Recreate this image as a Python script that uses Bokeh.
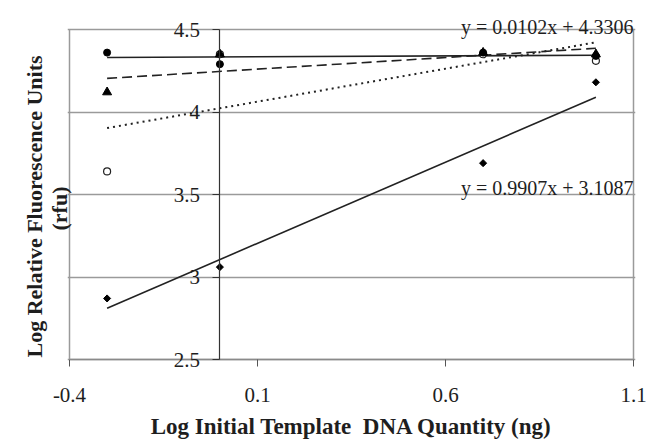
import numpy as np
from bokeh.plotting import figure
from bokeh.models import FixedTicker, Label, Title, Range1d, LinearAxis
from bokeh.embed import file_html
from bokeh.resources import INLINE

# Data (log initial template DNA quantity, log rfu)
x_vals = [-0.3, 0.0, 0.7, 1.0]
diamonds = [2.87, 3.06, 3.69, 4.18]
filled_circles = [4.36, 4.29, 4.36, 4.34]
triangles = [4.12, 4.35, 4.36, 4.35]
open_circles = [3.64, 4.35, 4.35, 4.31]

x_ticks = [-0.4, 0.1, 0.6, 1.1]
x_tick_labels = ["-0.4", "0.1", "0.6", "1.1"]
y_ticks = [2.5, 3.0, 3.5, 4.0, 4.5]
y_tick_labels = ["2.5", "3", "3.5", "4", "4.5"]
eq_top = "y = 0.0102x + 4.3306"
eq_bottom = "y = 0.9907x + 3.1087"
x_title = "Log Initial Template\u00a0 DNA Quantity (ng)"
y_title = ["(rfu)", "Log Relative Fluorescence Units"]

SERIF = "Liberation Serif"
TXT = "#1e1e1e"
GRID = "#9a9a9a"

# layout (pixels)
PX_X = 376.0          # pixels per x unit
PX_Y = 165.0          # pixels per y unit
PAD_X = 2             # px beyond box left/right
PAD_TOP = 19          # px of frame above the 4.5 line (room for text)
PAD_BOT = 13          # px of frame below the 2.5 line (room for tick labels)

x0, x1 = x_ticks[0], x_ticks[-1]
y0, y1 = y_ticks[0], y_ticks[-1]
fw = int(round((x1 - x0) * PX_X)) + 2 * PAD_X
fh = int(round((y1 - y0) * PX_Y)) + PAD_TOP + PAD_BOT

p = figure(output_backend="svg", toolbar_location=None,
           x_range=Range1d(x0 - PAD_X / PX_X, x1 + PAD_X / PX_X),
           y_range=Range1d(y0 - PAD_BOT / PX_Y, y1 + PAD_TOP / PX_Y),
           frame_width=fw, frame_height=fh,
           min_border_left=67, min_border_right=12, min_border_top=10, min_border_bottom=0)
p.background_fill_color = "white"
p.border_fill_color = "white"
p.outline_line_color = None

# horizontal grid lines (incl. top border at 4.5)
p.xgrid.visible = False
p.ygrid.ticker = FixedTicker(ticks=y_ticks)
p.ygrid.grid_line_color = GRID
p.ygrid.grid_line_width = 1.5

# main x axis: labels only
xa = p.xaxis[0]
xa.ticker = FixedTicker(ticks=x_ticks)
xa.major_label_overrides = {t: l for t, l in zip(x_ticks, x_tick_labels)}
xa.axis_line_color = None
xa.major_tick_line_color = None
xa.major_tick_in = 0
xa.major_tick_out = 0
xa.minor_tick_line_color = None
xa.major_label_text_font = SERIF
xa.major_label_text_font_size = "21px"
xa.major_label_text_color = TXT
xa.major_label_standoff = 15
xa.axis_label = x_title
xa.axis_label_text_font = SERIF
xa.axis_label_text_font_style = "bold"
xa.axis_label_text_font_size = "23px"
xa.axis_label_text_color = TXT
xa.axis_label_standoff = 9

# bottom box line with tick marks at y = 2.5
xb = LinearAxis(fixed_location=y0, bounds=(x0, x1), ticker=FixedTicker(ticks=x_ticks),
                axis_line_color="#8a8a8a", axis_line_width=1.5,
                major_tick_line_color="#555555", major_tick_in=0, major_tick_out=7,
                minor_tick_line_color=None, major_label_text_color=None)
p.add_layout(xb, "below")

# left / right box lines
for loc in (x0, x1):
    bx = LinearAxis(fixed_location=loc, bounds=(y0, y1), ticker=FixedTicker(ticks=[]),
                    axis_line_color=GRID, axis_line_width=1.5,
                    major_tick_line_color=None, minor_tick_line_color=None,
                    major_label_text_color=None)
    p.add_layout(bx, "left")

# y axis, crossing at x = 0
ya = p.yaxis[0]
ya.fixed_location = 0
ya.bounds = (y0, y1)
ya.ticker = FixedTicker(ticks=y_ticks)
ya.major_label_overrides = {t: l for t, l in zip(y_ticks, y_tick_labels)}
ya.axis_line_color = "#333333"
ya.axis_line_width = 1.2
ya.major_tick_line_color = "#333333"
ya.major_tick_in = 0
ya.major_tick_out = 7
ya.minor_tick_line_color = None
ya.major_label_text_font = SERIF
ya.major_label_text_font_size = "21px"
ya.major_label_text_color = TXT
ya.major_label_standoff = 13

# y axis title (two lines)
p.add_layout(Title(text=y_title[0], align="left", offset=142, text_font=SERIF,
                   text_font_style="bold", text_font_size="22px", text_color=TXT,
                   standoff=-8), "left")
p.add_layout(Title(text=y_title[1], align="left", offset=15, text_font=SERIF,
                   text_font_style="bold", text_font_size="22px", text_color=TXT,
                   standoff=4), "left")

# trend lines (least squares fits of each series)
xs = np.array(x_vals)
xline = np.array([min(x_vals), max(x_vals)])
for ys, dash, width in [(diamonds, "solid", 1.6), (filled_circles, "solid", 1.6),
                        (triangles, "10 5", 1.6), (open_circles, "2 4", 2)]:
    m, b = np.polyfit(xs, np.array(ys), 1)
    p.line(xline, m * xline + b, line_color="#222222", line_width=width, line_dash=dash)

# markers
p.scatter(x_vals, open_circles, marker="circle", size=7, fill_color="white",
          line_color="#222222", line_width=1.2)
p.scatter(x_vals, triangles, marker="triangle", size=9, fill_color="black", line_color="black")
p.scatter(x_vals, filled_circles, marker="circle", size=7, fill_color="black", line_color="black")
p.scatter(x_vals, diamonds, marker="square", size=5, angle=np.pi / 4,
          fill_color="black", line_color="black")

# equations
p.add_layout(Label(x=x1, y=y1, text=eq_top, text_align="right", text_baseline="alphabetic",
                   y_offset=3, text_font=SERIF, text_font_size="20px", text_color=TXT))
p.add_layout(Label(x=x1, y=3.5, text=eq_bottom, text_align="right", text_baseline="alphabetic",
                   y_offset=7, text_font=SERIF, text_font_size="20px", text_color=TXT))

open("out.html", "w").write(file_html(p, INLINE))
